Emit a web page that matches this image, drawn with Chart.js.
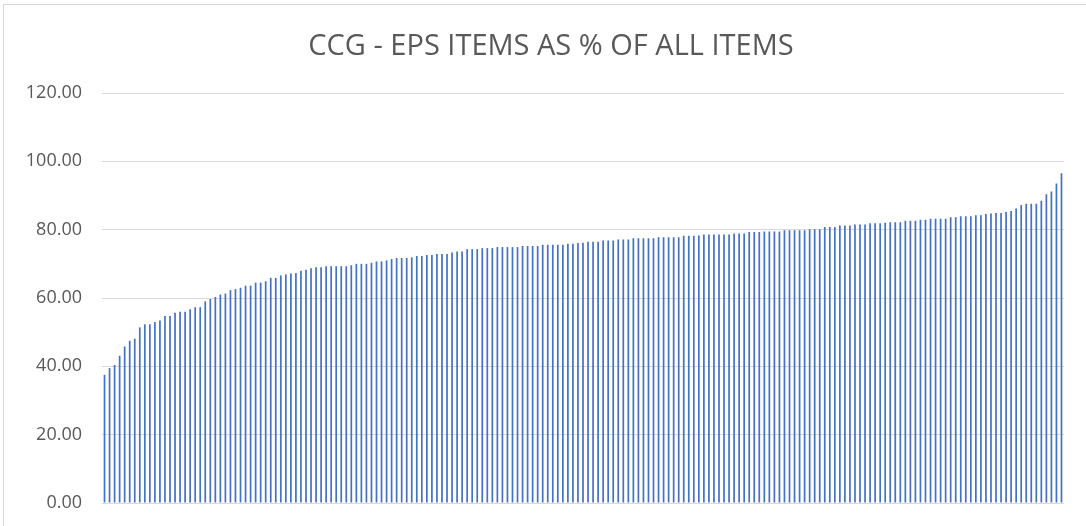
<!DOCTYPE html>
<html>
<head>
<meta charset="utf-8">
<script src="https://cdn.jsdelivr.net/npm/chart.js@4/dist/chart.umd.min.js"></script>
<style>
  html, body { margin: 0; padding: 0; background: #ffffff; overflow: hidden; }
  #wrap { position: relative; width: 1086px; height: 526px; }
  #frame { position: absolute; left: 3px; top: 4px; width: 1200px; height: 600px; border: 1px solid #d9d9d9; box-sizing: border-box; }
  canvas { position: absolute; left: 0; top: 0; }
</style>
</head>
<body>
<div id="wrap">
  <div id="frame"></div>
  <canvas id="c" width="1086" height="526"></canvas>
</div>
<script>
const titleText = 'CCG - EPS ITEMS AS % OF ALL ITEMS';

const seriesA = [37.5, 39.5, 40.4, 43.1, 45.8, 47.5, 48.1, 51.4, 52.3, 52.3, 53.0, 53.4, 54.7, 54.7, 55.7, 56.0, 56.0, 56.7, 57.3, 57.3,
  59.0, 59.7, 60.3, 61.0, 61.3, 62.3, 62.6, 63.0, 63.6, 63.6, 64.5, 64.5, 64.9, 65.9, 65.9, 66.6, 66.9, 67.2, 67.3];
const seriesB = [68.0, 68.3, 68.7, 69.0, 69.0, 69.3, 69.3, 69.3, 69.3, 69.3, 69.6, 70.0, 70.0, 70.0, 70.3, 70.7, 70.7, 71.0, 71.4, 71.7,
  71.7, 71.7, 71.9, 72.3, 72.3, 72.6, 72.6, 72.9, 72.9, 72.9, 73.3, 73.6, 73.6, 74.3, 74.3, 74.3, 74.6, 74.6];
const seriesC = [74.6, 74.9, 74.9, 74.9, 74.9, 74.9, 75.2, 75.2, 75.2, 75.2, 75.6, 75.6, 75.6, 75.6, 75.6, 75.9, 75.9, 76.1, 76.2, 76.5,
  76.5, 76.5, 76.8, 76.8, 76.8, 77.1, 77.1, 77.1, 77.5, 77.5, 77.5, 77.5, 77.5, 77.8, 77.8, 77.8, 77.8, 77.8, 78.2, 78.2];
const seriesD = [78.2, 78.3, 78.6, 78.6, 78.6, 78.6, 78.6, 78.6, 78.9, 78.9, 78.9, 79.3, 79.3, 79.3, 79.5, 79.5, 79.5, 79.5, 79.8, 79.8,
  79.8, 79.8, 79.8, 80.1, 80.1, 80.1, 80.8, 80.8, 80.8, 81.2, 81.2, 81.2, 81.5, 81.5, 81.5, 81.9, 81.9, 81.9];
const seriesE = [82.0, 82.2, 82.2, 82.2, 82.6, 82.6, 82.6, 82.9, 82.9, 83.2, 83.2, 83.2, 83.2, 83.6, 83.6, 83.9, 83.9, 83.9, 84.2, 84.2,
  84.6, 84.7, 84.9, 84.9, 85.2, 85.5, 86.2, 87.2, 87.6, 87.6, 87.6, 88.5, 90.4, 91.2, 93.5, 96.5];

const epsPercent = [].concat(seriesA, seriesB, seriesC, seriesD, seriesE);
const categories = epsPercent.map((v, i) => 'CCG ' + (i + 1));
const yTickLabels = ['0.00', '20.00', '40.00', '60.00', '80.00', '100.00', '120.00'];

new Chart(document.getElementById('c'), {
  type: 'bar',
  data: {
    labels: categories,
    datasets: [{
      data: epsPercent,
      backgroundColor: '#4472C4',
      borderWidth: 0,
      categoryPercentage: 1.0,
      barPercentage: 0.34,
      yAxisID: 'y'
    }]
  },
  options: {
    responsive: false,
    animation: false,
    events: [],
    layout: { padding: { left: 16, right: 0, top: 19, bottom: 23 } },
    plugins: {
      legend: { display: false },
      tooltip: { enabled: false },
      title: {
        display: true,
        text: titleText,
        color: '#595959',
        font: { family: 'Open Sans', size: 29, weight: 'normal' },
        padding: { top: 10, bottom: 29.2 }
      }
    },
    scales: {
      x: {
        grid: { display: false, drawTicks: false },
        border: { display: false },
        ticks: { display: false }
      },
      y: {
        position: 'left',
        min: 0,
        max: 120,
        afterFit: (s) => { s.width = 86; s.paddingTop = 11; s.paddingBottom = 11; },
        grid: { color: '#d9d9d9', lineWidth: 1, drawTicks: false },
        border: { display: false },
        ticks: {
          stepSize: 20,
          padding: 20,
          color: '#595959',
          font: { family: 'Open Sans', size: 18 },
          callback: (v) => yTickLabels[Math.round(v / 20)]
        }
      },
      yRightSpace: {
        position: 'right',
        min: 0,
        max: 120,
        afterFit: (s) => { s.width = 22; s.paddingTop = 0; s.paddingBottom = 0; },
        grid: { display: false, drawTicks: false },
        border: { display: false },
        ticks: { display: false }
      }
    }
  }
});
</script>
</body>
</html>
